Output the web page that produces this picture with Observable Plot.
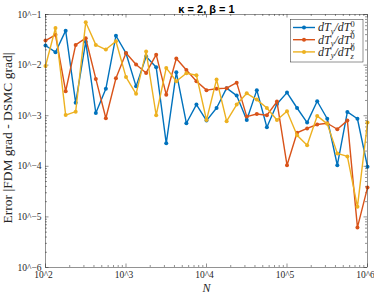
<!DOCTYPE html>
<html><head><meta charset="utf-8">
<script src="https://cdn.jsdelivr.net/npm/d3@7"></script>
<script src="https://cdn.jsdelivr.net/npm/@observablehq/plot@0.6"></script>
<style>html,body{margin:0;padding:0;background:#fff}svg{display:block}</style>
</head><body><div id="chart"></div>
<script>
// ---- data ----
const sampleN = [100, 133, 178, 237, 316, 422, 562, 750, 1000, 1334, 1778, 2371, 3162, 4217, 5623, 7499,
  10000, 13335, 17783, 23714, 31623, 42170, 56234, 74989, 100000, 133352, 177828, 237137, 316228,
  421697, 562341, 749894, 1000000];
const errDx = [0.0244, 0.018, 0.048, 0.0018, 0.029, 0.00113, 0.0034, 0.038, 0.0172, 0.0038, 0.0148, 0.0091,
  0.000285, 0.0072, 0.00071, 0.00166, 0.0008, 0.00142, 0.0035, 0.0025, 0.00082, 0.0032, 0.00059, 0.0017,
  0.00286, 0.00142, 0.00073, 0.00193, 0.00087, 0.000105, 0.00119, 0.00087, 0.000098];
const errDy = [0.0305, 0.0397, 0.00304, 0.0251, 0.034, 0.00533, 0.00089, 0.0055, 0.0174, 0.0103, 0.0070, 0.0161,
  0.0026, 0.0135, 0.008, 0.0048, 0.0032, 0.0034, 0.0035, 0.0045, 0.00096, 0.00108, 0.00102, 0.0019,
  0.000105, 0.00046, 0.00056, 0.00067, 0.00071, 0.00054, 0.0008, 0.0000062, 0.000038];
const errDz = [0.0096, 0.054, 0.00103, 0.0012, 0.070, 0.0251, 0.0203, 0.0296, 0.0058, 0.0027, 0.0185, 0.00102,
  0.0088, 0.0048, 0.0069, 0.0063, 0.00082, 0.0052, 0.00078, 0.00166, 0.00277, 0.00208, 0.00142, 0.00082,
  0.00122, 0.00041, 0.00026, 0.00099, 0.00069, 0.00018, 0.000157, 0.0000158, 0.00073];
const seriesLabels = ["dT_y/dT^0_x", "dT_y/dT^0_y", "dT_y/dT^0_z"];
const seriesColors = ["#0072BD", "#D95319", "#EDB120"];
const xTickValues = [1e2, 1e3, 1e4, 1e5, 1e6];
const yTickValues = [1e-6, 1e-5, 1e-4, 1e-3, 1e-2, 1e-1];
const titleText = "κ = 2, β = 1";
const xLabel = "N";
const yLabel = "Error |FDM grad - DSMC grad|";

// ---- layout ----
const W = 374, H = 298, mL = 45, mR = 7, mT = 14, mB = 31;
const FW = W - mL - mR, FH = H - mT - mB;
const axisColor = "#262626";
const serif = "'Liberation Serif', 'Times New Roman', serif";
const sans = "'Liberation Sans', Arial, sans-serif";

const rows = [];
[errDx, errDy, errDz].forEach((arr, s) => arr.forEach((v, i) => rows.push({N: sampleN[i], err: v, s})));

const xAll = d3.scaleLog().domain([1e2, 1e6]).ticks();
const yAll = d3.scaleLog().domain([1e-6, 1e-1]).ticks();
const isMajor = v => Math.abs(Math.log10(v) - Math.round(Math.log10(v))) < 1e-9;
const xMinor = xAll.filter(v => !isMajor(v));
const yMinor = yAll.filter(v => !isMajor(v));
const expFmt = v => "10^" + String(Math.round(Math.log10(v))).replace("-", "\u2212");

const marks = [];
// ticks (inward, on all four sides)
const tk = (len, minor) => {
  const xs = minor ? xMinor : xTickValues, ys = minor ? yMinor : yTickValues;
  return [
    Plot.tickX(xs, {x: d => d, insetTop: FH - len, stroke: axisColor, strokeWidth: 0.5}),
    Plot.tickX(xs, {x: d => d, insetBottom: FH - len, stroke: axisColor, strokeWidth: 0.5}),
    Plot.tickY(ys, {y: d => d, insetRight: FW - len, stroke: axisColor, strokeWidth: 0.5}),
    Plot.tickY(ys, {y: d => d, insetLeft: FW - len, stroke: axisColor, strokeWidth: 0.5})
  ];
};
marks.push(...tk(3.5, false), ...tk(2, true));
// series
[0, 1, 2].forEach(s => {
  const d = rows.filter(r => r.s === s);
  marks.push(Plot.line(d, {x: "N", y: "err", stroke: seriesColors[s], strokeWidth: 1.4}));
  marks.push(Plot.dot(d, {x: "N", y: "err", fill: seriesColors[s], r: 2, stroke: "none"}));
});
marks.push(Plot.frame({stroke: axisColor, strokeWidth: 0.5}));
// tick labels
marks.push(Plot.text(xTickValues, {x: d => d, frameAnchor: "bottom", dy: 10, dx: -2, textAnchor: "middle",
  text: expFmt, fontFamily: serif, fontSize: 9.5, fill: axisColor, ariaLabel: "tick-label"}));
marks.push(Plot.text(yTickValues, {y: d => d, frameAnchor: "left", dx: -4, textAnchor: "end", text: expFmt,
  fontFamily: serif, fontSize: 9.5, fill: axisColor, ariaLabel: "tick-label"}));
// axis titles
marks.push(Plot.text([xLabel], {frameAnchor: "bottom", dy: 24, textAnchor: "middle", text: d => d,
  fontFamily: serif, fontStyle: "italic", fontSize: 12, fill: axisColor}));
marks.push(Plot.text([yLabel], {frameAnchor: "left", dx: -37.5, dy: -3, rotate: -90, textAnchor: "middle",
  text: d => d, fontFamily: serif, fontSize: 13.5, fill: axisColor}));
marks.push(Plot.text([titleText], {frameAnchor: "top", dy: -9, textAnchor: "middle", text: d => d,
  fontFamily: sans, fontWeight: "bold", fontSize: 11, fill: "#000"}));

const svg = Plot.plot({
  width: W, height: H, marginLeft: mL, marginRight: mR, marginTop: mT, marginBottom: mB,
  x: {type: "log", domain: [1e2, 1e6], axis: null},
  y: {type: "log", domain: [1e-6, 1e-1], axis: null},
  style: {background: "white", overflow: "visible"},
  marks
});

// superscripts on tick labels
d3.select(svg).selectAll('g[aria-label="tick-label"] text').each(function () {
  const [base, exp] = this.textContent.split("^");
  const t = d3.select(this); t.text(null);
  t.append("tspan").text(base);
  t.append("tspan").attr("dy", "-3px").attr("font-size", "70%").text(exp);
});

// legend
const lg = d3.select(svg).append("g").attr("aria-label", "legend").attr("text-anchor", "start");
lg.append("rect").attr("x", 290.5).attr("y", 19.5).attr("width", 72.5).attr("height", 42.5)
  .attr("fill", "white").attr("stroke", axisColor).attr("stroke-width", 0.5);
seriesLabels.forEach((lab, i) => {
  const y = 27.5 + i * 12.2;
  lg.append("line").attr("x1", 293).attr("x2", 315).attr("y1", y).attr("y2", y)
    .attr("stroke", seriesColors[i]).attr("stroke-width", 1.4);
  lg.append("circle").attr("cx", 304).attr("cy", y).attr("r", 2).attr("fill", seriesColors[i]);
  const m = lab.match(/^dT_(\w)\/dT\^(\w)_(\w)$/);
  const t = lg.append("text").attr("x", 318).attr("y", y).attr("dy", "0.32em").attr("text-anchor", "start")
    .attr("font-family", serif).attr("font-style", "italic").attr("font-size", 12).attr("fill", axisColor);
  t.append("tspan").text("dT");
  t.append("tspan").attr("font-size", "70%").attr("dy", "2.5px").text(m[1]);
  t.append("tspan").attr("dy", "-2.5px").text("/dT");
  t.append("tspan").attr("font-size", "70%").attr("font-style", "normal").attr("dy", "-4.5px").text(m[2]);
  t.append("tspan").attr("font-size", "70%").attr("dx", "-4.2px").attr("dy", "7.5px").text(m[3]);
});

document.getElementById("chart").appendChild(svg);
</script>
</body></html>
